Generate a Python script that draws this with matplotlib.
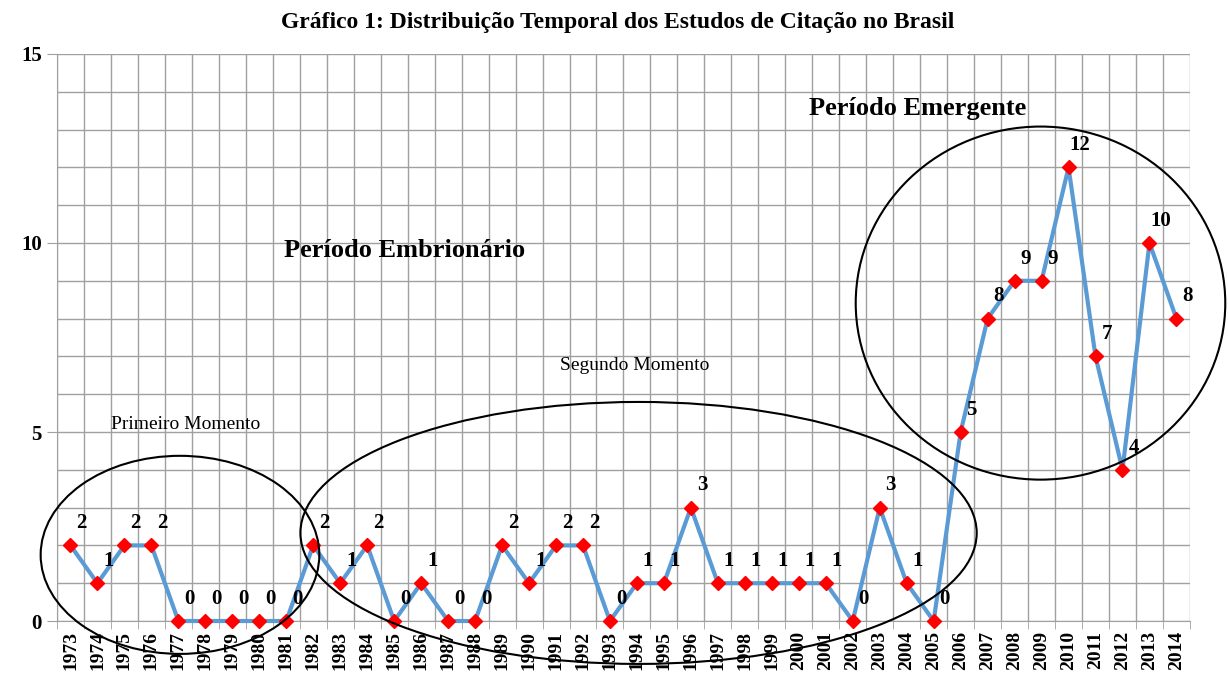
import matplotlib.pyplot as plt
from matplotlib.patches import Ellipse
from matplotlib.ticker import MultipleLocator

plt.rcParams['font.family'] = ['Liberation Serif', 'DejaVu Serif']

anos = list(range(1973, 2015))
estudos = [2, 1, 2, 2, 0, 0, 0, 0, 0, 2, 1, 2, 0, 1, 0, 0, 2, 1, 2, 2, 0, 1, 1, 3,
           1, 1, 1, 1, 1, 0, 3, 1, 0, 5, 8, 9, 9, 12, 7, 4, 10, 8]
titulo = "Gráfico 1: Distribuição Temporal dos Estudos de Citação no Brasil"

fig = plt.figure(figsize=(12.28, 6.79), dpi=100)
ax = fig.add_axes([0.0464, 0.0854, 0.9226, 0.8351])

xs = list(range(len(anos)))
ax.plot(xs, estudos, color="#5B9BD5", lw=3, zorder=3, clip_on=False)
ax.plot(xs, estudos, ls="none", marker="D", ms=7, color="#FF0000", zorder=4, clip_on=False)

for x, v in zip(xs, estudos):
    ax.annotate(str(v), (x, v), xytext=(8, 16), textcoords="offset points",
                ha="center", va="center", fontsize=15, fontweight="bold", zorder=5)

ax.set_xlim(-0.5, len(anos) - 0.5)
ax.set_ylim(0, 15)
ax.set_xticks(xs)
ax.set_xticklabels([str(a) for a in anos], rotation=90, fontsize=14, fontweight="bold")
ax.xaxis.set_minor_locator(MultipleLocator(1, offset=0.5))
ax.tick_params(axis="x", which="major", length=0, pad=7)
ax.tick_params(axis="x", which="minor", length=6, color="#A0A0A0")
ax.set_yticks([0, 5, 10, 15])
ax.set_yticklabels(["0", "5", "10", "15"], fontsize=15, fontweight="bold")
ax.yaxis.set_minor_locator(MultipleLocator(1))
ax.tick_params(axis="y", which="major", length=7, color="#A0A0A0", pad=4)
ax.tick_params(axis="y", which="minor", length=0)
ax.grid(True, which="minor", axis="x", color="#A0A0A0", lw=1)
ax.grid(True, which="both", axis="y", color="#A0A0A0", lw=1)
ax.set_axisbelow(True)
for s in ax.spines.values():
    s.set_color("#A0A0A0")
ax.spines["top"].set_visible(False)
ax.spines["right"].set_visible(False)

for cx, cy, w, h in [(4.06, 1.75, 10.33, 5.24), (21.06, 2.33, 25.07, 6.93),
                     (35.96, 8.41, 13.7, 9.34)]:
    ax.add_patch(Ellipse((cx, cy), w, h, fill=False, ec="black", lw=1.5,
                         clip_on=False, zorder=6))

ax.text(7.93, 9.79, "Período Embrionário", fontsize=19, fontweight="bold", va="center")
ax.text(27.37, 13.57, "Período Emergente", fontsize=19, fontweight="bold", va="center")
ax.text(20.9, 6.75, "Segundo Momento", fontsize=14, ha="center", va="center")
ax.text(4.26, 5.21, "Primeiro Momento", fontsize=14, ha="center", va="center")

fig.text(0.503, 0.967, titulo, fontsize=17, fontweight="bold", ha="center", va="center")

fig.savefig("out.png", dpi=100)
